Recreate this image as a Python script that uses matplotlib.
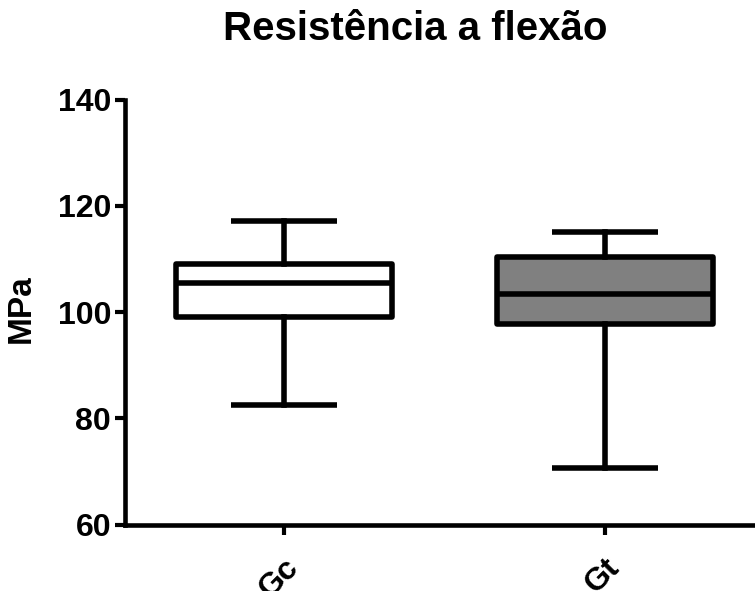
import matplotlib
matplotlib.use('Agg')
import matplotlib.pyplot as plt

plt.rcParams['font.family'] = ['Liberation Sans', 'DejaVu Sans']
plt.rcParams['font.weight'] = 'bold'

groups = ['Gc', 'Gt']
whislo = [82.5, 70.7]
q1 = [99.1, 97.8]
med = [105.4, 103.3]
q3 = [109.1, 110.4]
whishi = [117.15, 115.1]
fills = ['white', '#808080']

stats = []
for i in range(len(groups)):
    stats.append({'label': groups[i], 'whislo': whislo[i], 'q1': q1[i],
                  'med': med[i], 'q3': q3[i], 'whishi': whishi[i], 'fliers': []})

fig = plt.figure(figsize=(7.55, 5.91), dpi=100)
ax = fig.add_axes([125/755, 66.5/591, 630/755, 425/591])

lw = 4
bp = ax.bxp(stats, positions=[1, 2], widths=0.673, capwidths=0.33,
            patch_artist=True, showfliers=False,
            boxprops=dict(linewidth=lw, edgecolor='black', joinstyle='round'),
            medianprops=dict(linewidth=lw, color='black', solid_capstyle='butt'),
            whiskerprops=dict(linewidth=lw, color='black'),
            capprops=dict(linewidth=lw, color='black', solid_capstyle='butt'))
for patch, c in zip(bp['boxes'], fills):
    patch.set_facecolor(c)

ax.set_xlim(0.505, 2.467)
ax.set_ylim(60, 140)
ax.set_yticks([60, 80, 100, 120, 140])

for s in ['top', 'right']:
    ax.spines[s].set_visible(False)
for s in ['left', 'bottom']:
    ax.spines[s].set_linewidth(3.3)
    ax.spines[s].set_capstyle('projecting')

ax.tick_params(axis='both', width=3, length=7, labelsize=23)
ax.tick_params(axis='y', pad=3)
ax.tick_params(axis='x', pad=13)
for lab in ax.get_xticklabels():
    lab.set_rotation(45)
    lab.set_ha('right')
    lab.set_va('top')
    lab.set_rotation_mode('anchor')
    lab.set_fontweight('bold')
for lab in ax.get_yticklabels():
    lab.set_fontweight('bold')

ax.set_ylabel('MPa', fontsize=24, fontweight='bold')
ax.yaxis.set_label_coords(-0.1397, 0.507)

fig.text(415/755, (591-40)/591, 'Resistência a flexão', ha='center', va='baseline',
         fontsize=29, fontweight='bold')

fig.savefig('out.png', dpi=100)
